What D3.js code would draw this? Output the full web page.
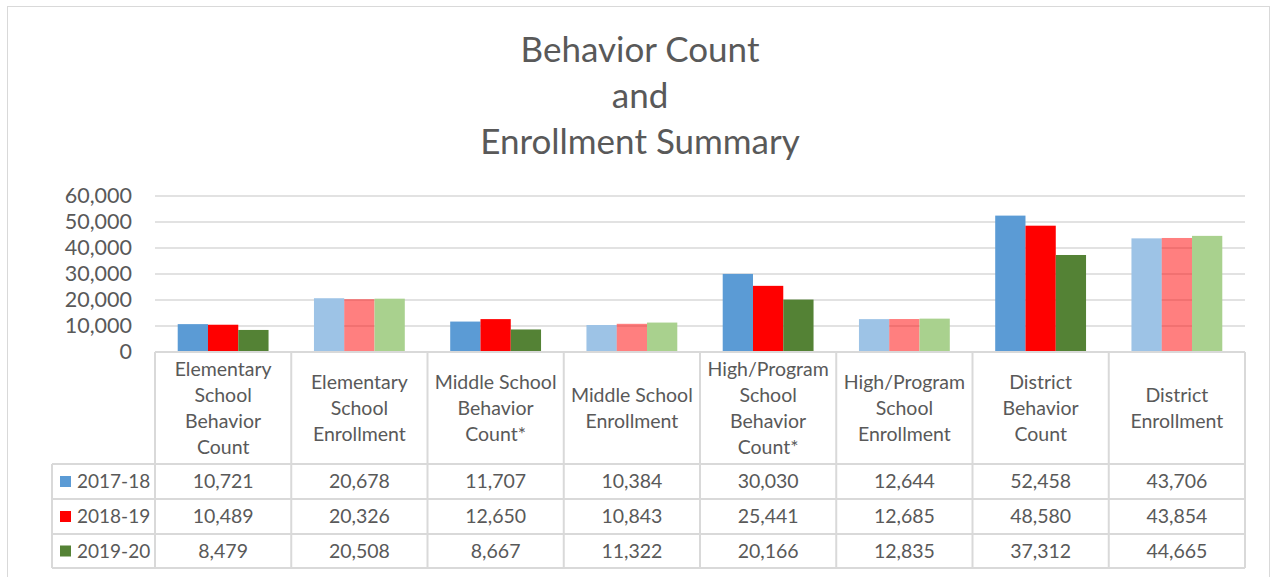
<!DOCTYPE html>
<html><head><meta charset="utf-8">
<script src="https://cdn.jsdelivr.net/npm/d3@7"></script>
<style>
html,body{margin:0;padding:0;background:#fff;}
svg{display:block;}
text{font-family:Lato,"Open Sans",sans-serif;fill:#595959;}
</style></head>
<body>
<svg id="chart" width="1273" height="577"></svg>
<script>
const titleLines = ["Behavior Count", "and", "Enrollment Summary"];
const categories = [
  ["Elementary", "School", "Behavior", "Count"],
  ["Elementary", "School", "Enrollment"],
  ["Middle School", "Behavior", "Count*"],
  ["Middle School", "Enrollment"],
  ["High/Program", "School", "Behavior", "Count*"],
  ["High/Program", "School", "Enrollment"],
  ["District", "Behavior", "Count"],
  ["District", "Enrollment"]
];
const isEnrollment = [false, true, false, true, false, true, false, true];
const seriesNames = ["2017-18", "2018-19", "2019-20"];
const values2017 = [10721, 20678, 11707, 10384, 30030, 12644, 52458, 43706];
const values2018 = [10489, 20326, 12650, 10843, 25441, 12685, 48580, 43854];
const values2019 = [8479, 20508, 8667, 11322, 20166, 12835, 37312, 44665];
const yTicks = [0, 10000, 20000, 30000, 40000, 50000, 60000];

const series = [values2017, values2018, values2019];
const darkColors = ["#5B9BD5", "#FF0000", "#548235"];
const lightColors = ["#9DC3E6", "#FF0000", "#A9D18E"];
const lightOpacity = [1, 0.5, 1];

const svg = d3.select("#chart");
const plotL = 155, plotR = 1245, plotT = 196, plotB = 352;
const legendL = 52;
const rowY = [464, 499, 534, 568];

// outer border
svg.append("rect").attr("x", 7.5).attr("y", 6.5).attr("width", 1262).attr("height", 580)
  .attr("fill", "#fff").attr("stroke", "#d9d9d9").attr("stroke-width", 1);

// title
svg.append("g").selectAll("text").data(titleLines).join("text")
  .attr("x", 640).attr("y", (d, i) => 62 + i * 46)
  .attr("text-anchor", "middle").style("font-size", "35px").text(d => d);

const x = d3.scaleBand().domain(d3.range(categories.length)).range([plotL, plotR]).paddingInner(0).paddingOuter(0);
const y = d3.scaleLinear().domain([0, 60000]).range([plotB, plotT]);
const groupW = x.bandwidth() / 1.5;
const xs = d3.scaleBand().domain(d3.range(series.length)).range([0, groupW]);

// gridlines
svg.append("g").selectAll("line").data(yTicks.filter(t => t > 0)).join("line")
  .attr("x1", plotL).attr("x2", plotR).attr("y1", d => y(d)).attr("y2", d => y(d))
  .attr("stroke", "#d9d9d9").attr("stroke-width", 1.5);

// y axis labels
const yAxis = d3.axisLeft(y).tickValues(yTicks).tickFormat(d3.format(",")).tickSize(0).tickPadding(0);
const ya = svg.append("g").attr("transform", `translate(132,0)`).call(yAxis);
ya.select(".domain").remove();
ya.selectAll("text").style("font-size", "21.5px").style("font-family", "Lato,'Open Sans',sans-serif").attr("fill", "#595959");

// bars
const gBars = svg.append("g");
series.forEach((vals, si) => {
  gBars.append("g").selectAll("rect").data(vals).join("rect")
    .attr("x", (d, i) => x(i) + (x.bandwidth() - groupW) / 2 + xs(si))
    .attr("width", xs.bandwidth())
    .attr("y", d => y(d))
    .attr("height", d => y(0) - y(d))
    .attr("fill", (d, i) => isEnrollment[i] ? lightColors[si] : darkColors[si])
    .attr("fill-opacity", (d, i) => isEnrollment[i] ? lightOpacity[si] : 1);
});

// table
const tg = svg.append("g");
const lineColor = "#d9d9d9";
tg.append("line").attr("x1", plotL).attr("x2", plotR).attr("y1", plotB).attr("y2", plotB)
  .attr("stroke", lineColor).attr("stroke-width", 2);
tg.selectAll("line.row").data(rowY).join("line").attr("class", "row")
  .attr("x1", legendL).attr("x2", plotR).attr("y1", d => d).attr("y2", d => d)
  .attr("stroke", lineColor).attr("stroke-width", 2);
const bounds = d3.range(categories.length + 1).map(i => i < categories.length ? x(i) : plotR);
tg.selectAll("line.col").data(bounds).join("line").attr("class", "col")
  .attr("x1", d => d).attr("x2", d => d).attr("y1", plotB).attr("y2", rowY[3])
  .attr("stroke", lineColor).attr("stroke-width", 2);
tg.append("line").attr("x1", legendL).attr("x2", legendL).attr("y1", rowY[0]).attr("y2", rowY[3])
  .attr("stroke", lineColor).attr("stroke-width", 2);

// category headers
const headerMid = (plotB + rowY[0]) / 2;
categories.forEach((lines, i) => {
  const cx = x(i) + x.bandwidth() / 2;
  const lh = 26;
  const y0 = headerMid - (lines.length - 1) * lh / 2;
  tg.append("g").selectAll("text").data(lines).join("text")
    .attr("x", cx).attr("y", (d, j) => y0 + j * lh)
    .attr("dy", "0.35em").attr("text-anchor", "middle")
    .style("font-size", "19.5px").text(d => d);
});

// legend + values
const fmt = d3.format(",");
series.forEach((vals, si) => {
  const cy = (rowY[si] + rowY[si + 1]) / 2;
  tg.append("rect").attr("x", 60).attr("y", cy - 5.5).attr("width", 11).attr("height", 11).attr("fill", darkColors[si]);
  tg.append("text").attr("x", 77).attr("y", cy).attr("dy", "0.35em").style("font-size", "19px").text(seriesNames[si]);
  tg.append("g").selectAll("text").data(vals).join("text")
    .attr("x", (d, i) => x(i) + x.bandwidth() / 2).attr("y", cy).attr("dy", "0.35em")
    .attr("text-anchor", "middle").style("font-size", "19.5px").text(d => fmt(d));
});
</script>
</body></html>
